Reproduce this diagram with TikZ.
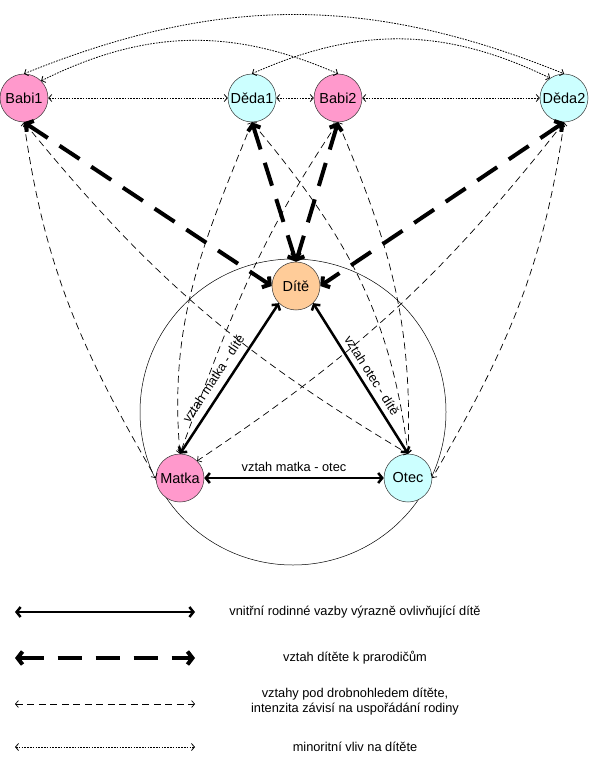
\documentclass[tikz,border=0pt]{standalone}
\usepackage{fontspec}
\setmainfont{Liberation Sans}
\usetikzlibrary{arrows.meta}
\definecolor{babi}{RGB}{255,153,204}
\definecolor{deda}{RGB}{204,255,255}
\definecolor{dite}{RGB}{255,204,153}

\begin{document}
\begin{tikzpicture}[
    x=1pt, y=1pt,
    osoba/.style={circle, draw=black!80, line width=0.5pt, minimum size=48pt, inner sep=0pt,
        font=\fontsize{14.5}{16}\selectfont},
    vazba/.style={line width=2.5pt,
        {Straight Barb[length=4pt,width=10pt]}-{Straight Barb[length=4pt,width=10pt]}},
    prarod/.style={line width=4pt, dash pattern=on 24pt off 14pt,
        {Straight Barb[length=5pt,width=13pt]}-{Straight Barb[length=5pt,width=13pt]}},
    slaba/.style={line width=0.7pt, dash pattern=on 7pt off 4.5pt,
        {Straight Barb[length=3pt,width=7pt]}-{Straight Barb[length=3pt,width=7pt]}},
    minor/.style={line width=0.8pt, dash pattern=on 1.6pt off 1.2pt,
        {Straight Barb[length=3pt,width=7pt]}-{Straight Barb[length=3pt,width=7pt]}},
    popis/.style={font=\fontsize{12.8}{15}\selectfont},
]
\useasboundingbox (0,0) rectangle (589,-757);

% rodina
\node[circle, draw, line width=0.5pt, minimum size=306pt] (kruh) at (293,-412) {};
\node[osoba, fill=babi] (Babi1) at (24,-98) {Babi1};
\node[osoba, fill=deda] (Deda1) at (252,-98) {Děda1};
\node[osoba, fill=babi] (Babi2) at (338,-98) {Babi2};
\node[osoba, fill=deda] (Deda2) at (564,-98) {Děda2};
\node[osoba, fill=dite] (Dite) at (296,-286) {Dítě};
\node[osoba, fill=babi] (Matka) at (180,-478) {Matka};
\node[osoba, fill=deda] (Otec) at (408,-478) {Otec};

% prarodice mezi sebou
\draw[minor] (Babi1.east) -- (Deda1.west);
\draw[minor] (Deda1.east) -- (Babi2.west);
\draw[minor] (Babi2.east) -- (Deda2.west);
\draw[minor] (Babi1.north) to[bend left=22] (Deda2.north);
\draw[minor] (Babi1.north east) to[bend left=25] (Babi2.north);
\draw[minor] (Deda1.north) to[bend left=25] (Deda2.125);

% prarodice a rodice
\draw[slaba] (Babi1.south) to[out=-82, in=120] (Matka.west);
\draw[slaba] (Babi1.south) to[bend right=10] (Otec.north);
\draw[slaba] (Deda1.south) to[out=-112, in=95] (Matka.north);
\draw[slaba] (Deda1.south) to[out=-50, in=97] (Otec.north);
\draw[slaba] (Babi2.south) to[out=-124, in=70] (Matka.north);
\draw[slaba] (Babi2.south) to[out=-67, in=88] (Otec.north);
\draw[slaba] (Deda2.south) to[bend left=9] (Matka.north east);
\draw[slaba] (Deda2.south) to[out=-98, in=60] (Otec.east);

% dite a prarodice
\draw[prarod] (Babi1.south) -- (Dite.west);
\draw[prarod] (Deda1.south) -- (Dite.north);
\draw[prarod] (Babi2.south) -- (Dite.north);
\draw[prarod] (Deda2.south) -- (Dite.east);

% dite a rodice
\draw[vazba] (Matka.north) -- node[popis, sloped, above=4pt, pos=0.45] {vztah matka - dítě} (Dite.south west);
\draw[vazba] (Dite.south east) -- node[popis, sloped, above=2pt, pos=0.52] {vztah otec - dítě} (Otec.north);
\draw[vazba] (Matka.east) -- node[popis, above=2pt] {vztah matka - otec} (Otec.west);

% legenda
\coordinate (l1a) at (15,-612); \coordinate (l1b) at (195,-612);
\coordinate (l2a) at (15,-658); \coordinate (l2b) at (195,-658);
\coordinate (l3a) at (15,-704); \coordinate (l3b) at (195,-704);
\coordinate (l4a) at (15,-747); \coordinate (l4b) at (195,-747);
\draw[vazba] (l1a) -- (l1b);
\draw[prarod] (l2a) -- (l2b);
\draw[slaba] (l3a) -- (l3b);
\draw[minor] (l4a) -- (l4b);
\node[popis] (t1) at (355,-612) {vnitřní rodinné vazby výrazně ovlivňující dítě};
\node[popis] (t2) at (355,-658) {vztah dítěte k prarodičům};
\node[popis, align=center] (t3) at (355,-702) {vztahy pod drobnohledem dítěte,\\intenzita závisí na uspořádání rodiny};
\node[popis] (t4) at (355,-747) {minoritní vliv na dítěte};
\end{tikzpicture}
\end{document}
